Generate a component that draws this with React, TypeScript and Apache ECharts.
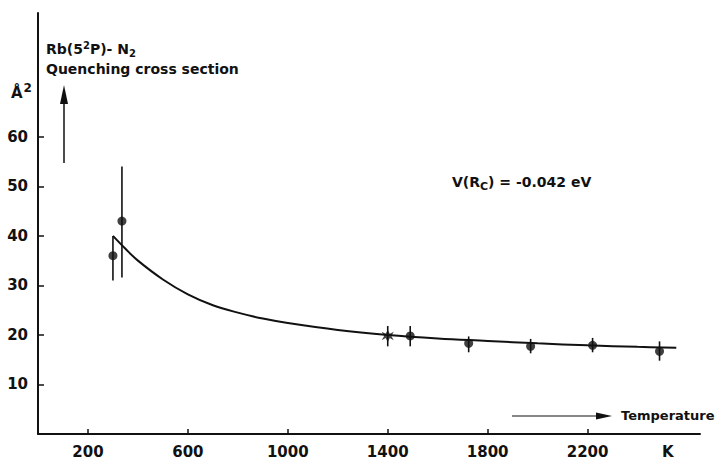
import React, { useEffect, useRef } from "react";
import * as echarts from "echarts";

const xTicks = [200, 600, 1000, 1400, 1800, 2200];
const yTicks = [10, 20, 30, 40, 50, 60];

const temps = [300, 336, 1400, 1490, 1724, 1972, 2220, 2488];
const sigma = [36, 43, 19.8, 19.8, 18.3, 17.7, 17.9, 16.7];
const errLow = [31, 31.6, 17.7, 17.7, 16.5, 16.3, 16.5, 14.8];
const errHigh = [40, 54, 21.8, 21.8, 19.7, 19.2, 19.4, 18.7];

const fitT = [300, 350, 400, 500, 600, 700, 800, 900, 1000, 1200, 1400, 1600, 1800, 2000, 2200, 2400, 2555];
const fitS = [40, 37.4, 35, 31.2, 28.2, 26, 24.5, 23.3, 22.4, 21, 20, 19.3, 18.8, 18.3, 17.9, 17.6, 17.4];

const INK = "#111";
const FONT = "DejaVu Sans";
const STAR =
  "path://M0,-10 L3.5,-3.5 L10,-7 L6,0 L10,7 L3.5,3.5 L0,10 L-3.5,3.5 L-10,7 L-6,0 L-10,-7 L-3.5,-3.5 Z";

export default function App() {
  const ref = useRef<HTMLDivElement>(null);
  useEffect(() => {
    if (!ref.current) return;
    const chart = echarts.init(ref.current, null, { renderer: "svg" });
    const points = temps.map((t, i) => ({
      value: [t, sigma[i]],
      symbol: t === 1400 ? STAR : "circle",
      symbolSize: t === 1400 ? 12 : 9,
    }));
    const bars = temps.map((t, i) => [t, errLow[i], errHigh[i]]);
    const bold = (size: number) => `bold ${size}px "${FONT}"`;
    chart.setOption({
      animation: false,
      backgroundColor: "#fff",
      grid: { left: 38, right: 15, top: 13, bottom: 24, containLabel: false },
      xAxis: {
        type: "value",
        min: 0,
        max: 2650,
        splitLine: { show: false },
        axisLine: { show: true, lineStyle: { color: INK, width: 2 } },
        axisTick: { show: true, inside: true, length: 5, customValues: xTicks, lineStyle: { color: INK, width: 1.5 } },
        axisLabel: {
          customValues: xTicks,
          formatter: (v: number) => String(v),
          color: INK,
          fontFamily: FONT,
          fontWeight: "bold",
          fontSize: 15,
          margin: 10,
        },
      },
      yAxis: {
        type: "value",
        min: 0,
        max: 85,
        splitLine: { show: false },
        axisLine: { show: true, lineStyle: { color: INK, width: 2 } },
        axisTick: { show: true, inside: true, length: 6, customValues: yTicks, lineStyle: { color: INK, width: 1.5 } },
        axisLabel: {
          customValues: yTicks,
          formatter: (v: number) => String(v),
          color: INK,
          fontFamily: FONT,
          fontWeight: "bold",
          fontSize: 15,
          margin: 10,
        },
      },
      series: [
        {
          type: "line",
          data: fitT.map((t, i) => [t, fitS[i]]),
          smooth: 0.4,
          showSymbol: false,
          lineStyle: { color: INK, width: 2 },
          z: 2,
        },
        {
          type: "custom",
          data: bars,
          renderItem: (params: any, api: any) => {
            const x = api.value(0);
            const lo = api.coord([x, api.value(1)]);
            const hi = api.coord([x, api.value(2)]);
            return {
              type: "line",
              shape: { x1: lo[0], y1: lo[1], x2: hi[0], y2: hi[1] },
              style: { stroke: INK, lineWidth: 1.6 },
            };
          },
          z: 3,
        },
        {
          type: "scatter",
          data: points,
          itemStyle: { color: INK },
          z: 4,
        },
      ],
      graphic: [
        {
          type: "text",
          left: 46,
          top: 40,
          style: {
            text: "Rb(5{sup|2}P)- N{sub|2}",
            fill: INK,
            font: bold(14),
            rich: {
              sup: { font: bold(10), padding: [0, 0, 8, 0], fill: INK },
              sub: { font: bold(10), padding: [8, 0, 0, 0], fill: INK },
            },
          },
        },
        {
          type: "text",
          left: 46,
          top: 62,
          style: { text: "Quenching cross section", fill: INK, font: bold(14) },
        },
        {
          type: "text",
          left: 11,
          top: 82,
          style: {
            text: "Å{sup|2}",
            fill: INK,
            font: bold(15),
            rich: { sup: { font: bold(12), padding: [0, 0, 9, 1], fill: INK } },
          },
        },
        {
          type: "line",
          shape: { x1: 64, y1: 163, x2: 64, y2: 96 },
          style: { stroke: INK, lineWidth: 1.5 },
        },
        {
          type: "polygon",
          shape: { points: [[64, 85], [60, 104], [68, 104]] },
          style: { fill: INK },
        },
        {
          type: "text",
          left: 452,
          top: 175,
          style: {
            text: "V(R{s|C}) = -0.042 eV",
            fill: INK,
            font: bold(14),
            rich: { s: { font: bold(11), padding: [8, 0, 0, 0], fill: INK } },
          },
        },
        {
          type: "line",
          shape: { x1: 512, y1: 416, x2: 600, y2: 416 },
          style: { stroke: INK, lineWidth: 1.2 },
        },
        {
          type: "polygon",
          shape: { points: [[612, 416], [596, 412.5], [596, 419.5]] },
          style: { fill: INK },
        },
        {
          type: "text",
          left: 621,
          top: 409,
          style: { text: "Temperature", fill: INK, font: bold(13) },
        },
        {
          type: "text",
          left: 662,
          top: 444,
          style: { text: "K", fill: INK, font: bold(15) },
        },
      ],
    });
    return () => chart.dispose();
  }, []);
  return (
    <div
      ref={ref}
      style={{ position: "fixed", left: 0, top: 0, width: 715, height: 459, background: "#fff" }}
    />
  );
}
